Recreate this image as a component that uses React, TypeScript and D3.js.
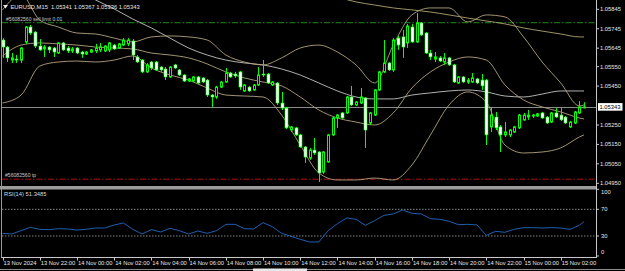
import React from 'react';
import * as d3 from 'd3';

const W = 625;
const H = 271;

// EURUSD M15 candles, 13 Nov 20:00 .. 15 Nov 03:15
const opens = [
  1.05687, 1.05651, 1.05584, 1.05589, 1.05584, 1.05677, 1.05754, 1.05728, 1.05656, 1.05641,
  1.05651, 1.05646, 1.05620, 1.05672, 1.05646, 1.05631, 1.05646, 1.05625, 1.05615, 1.05625,
  1.05631, 1.05636, 1.05631, 1.05636, 1.05661, 1.05646, 1.05661, 1.05667, 1.05682, 1.05600,
  1.05584, 1.05523, 1.05574, 1.05574, 1.05548, 1.05538, 1.05497, 1.05559, 1.05533, 1.05507,
  1.05476, 1.05476, 1.05497, 1.05492, 1.05481, 1.05404, 1.05394, 1.05445, 1.05471, 1.05517,
  1.05512, 1.05523, 1.05425, 1.05445, 1.05430, 1.05456, 1.05512, 1.05512, 1.05456, 1.05466,
  1.05363, 1.05337, 1.05224, 1.05235, 1.05199, 1.05137, 1.05080, 1.05121, 1.05111, 1.05008,
  1.05060, 1.05199, 1.05286, 1.05312, 1.05312, 1.05394, 1.05353, 1.05363, 1.05389, 1.05260,
  1.05301, 1.05430, 1.05523, 1.05569, 1.05533, 1.05697, 1.05703, 1.05672, 1.05754, 1.05677,
  1.05775, 1.05723, 1.05620, 1.05589, 1.05595, 1.05574, 1.05595, 1.05559, 1.05466, 1.05497,
  1.05471, 1.05471, 1.05487, 1.05481, 1.05481, 1.05240, 1.05291, 1.05240, 1.05199, 1.05199,
  1.05214, 1.05235, 1.05276, 1.05291, 1.05296, 1.05296, 1.05312, 1.05291, 1.05265, 1.05312,
  1.05301, 1.05291, 1.05240, 1.05260, 1.05312, 1.05341,
];
const highs = [
  1.05697, 1.05656, 1.05620, 1.05610, 1.05651, 1.05759, 1.05764, 1.05733, 1.05692, 1.05661,
  1.05656, 1.05651, 1.05677, 1.05677, 1.05656, 1.05651, 1.05651, 1.05631, 1.05631, 1.05641,
  1.05667, 1.05672, 1.05661, 1.05677, 1.05667, 1.05672, 1.05697, 1.05697, 1.05692, 1.05610,
  1.05589, 1.05569, 1.05579, 1.05579, 1.05553, 1.05548, 1.05553, 1.05564, 1.05538, 1.05512,
  1.05492, 1.05502, 1.05502, 1.05497, 1.05487, 1.05409, 1.05451, 1.05476, 1.05543, 1.05523,
  1.05523, 1.05528, 1.05461, 1.05451, 1.05461, 1.05548, 1.05584, 1.05517, 1.05476, 1.05471,
  1.05420, 1.05343, 1.05245, 1.05240, 1.05204, 1.05142, 1.05132, 1.05183, 1.05116, 1.05116,
  1.05204, 1.05291, 1.05307, 1.05317, 1.05399, 1.05451, 1.05373, 1.05440, 1.05394, 1.05317,
  1.05435, 1.05528, 1.05687, 1.05574, 1.05697, 1.05708, 1.05739, 1.05770, 1.05770, 1.05826,
  1.05780, 1.05728, 1.05636, 1.05625, 1.05605, 1.05620, 1.05600, 1.05564, 1.05502, 1.05502,
  1.05492, 1.05517, 1.05492, 1.05512, 1.05487, 1.05343, 1.05317, 1.05250, 1.05265, 1.05229,
  1.05245, 1.05307, 1.05312, 1.05327, 1.05307, 1.05312, 1.05317, 1.05296, 1.05317, 1.05337,
  1.05337, 1.05296, 1.05271, 1.05322, 1.05373, 1.05367,
];
const lows = [
  1.05595, 1.05574, 1.05569, 1.05569, 1.05569, 1.05667, 1.05713, 1.05646, 1.05631, 1.05600,
  1.05620, 1.05600, 1.05615, 1.05631, 1.05620, 1.05620, 1.05615, 1.05595, 1.05610, 1.05620,
  1.05620, 1.05625, 1.05625, 1.05625, 1.05636, 1.05641, 1.05656, 1.05656, 1.05584, 1.05569,
  1.05517, 1.05517, 1.05533, 1.05528, 1.05523, 1.05481, 1.05492, 1.05538, 1.05502, 1.05471,
  1.05471, 1.05471, 1.05461, 1.05466, 1.05394, 1.05343, 1.05384, 1.05440, 1.05466, 1.05492,
  1.05492, 1.05430, 1.05420, 1.05420, 1.05425, 1.05451, 1.05497, 1.05461, 1.05451, 1.05353,
  1.05327, 1.05229, 1.05214, 1.05193, 1.05132, 1.05055, 1.05070, 1.05096, 1.04957, 1.04998,
  1.05055, 1.05193, 1.05235, 1.05281, 1.05307, 1.05348, 1.05348, 1.05358, 1.05132, 1.05250,
  1.05296, 1.05425, 1.05517, 1.05528, 1.05523, 1.05636, 1.05595, 1.05646, 1.05672, 1.05672,
  1.05708, 1.05615, 1.05584, 1.05574, 1.05574, 1.05559, 1.05553, 1.05466, 1.05461, 1.05466,
  1.05461, 1.05466, 1.05461, 1.05430, 1.05147, 1.05214, 1.05224, 1.05111, 1.05188, 1.05188,
  1.05209, 1.05229, 1.05271, 1.05276, 1.05286, 1.05291, 1.05281, 1.05255, 1.05260, 1.05286,
  1.05271, 1.05255, 1.05235, 1.05255, 1.05307, 1.05336,
];
const closes = [
  1.05651, 1.05595, 1.05595, 1.05584, 1.05646, 1.05754, 1.05723, 1.05656, 1.05636, 1.05651,
  1.05636, 1.05625, 1.05672, 1.05636, 1.05631, 1.05641, 1.05620, 1.05615, 1.05625, 1.05636,
  1.05646, 1.05651, 1.05656, 1.05672, 1.05641, 1.05667, 1.05687, 1.05687, 1.05610, 1.05574,
  1.05523, 1.05559, 1.05543, 1.05533, 1.05533, 1.05497, 1.05548, 1.05543, 1.05507, 1.05476,
  1.05487, 1.05497, 1.05466, 1.05471, 1.05404, 1.05394, 1.05445, 1.05471, 1.05517, 1.05497,
  1.05502, 1.05445, 1.05456, 1.05425, 1.05456, 1.05507, 1.05507, 1.05466, 1.05471, 1.05363,
  1.05337, 1.05235, 1.05240, 1.05199, 1.05137, 1.05085, 1.05121, 1.05106, 1.05003, 1.05111,
  1.05199, 1.05286, 1.05301, 1.05286, 1.05394, 1.05353, 1.05368, 1.05394, 1.05224, 1.05312,
  1.05430, 1.05523, 1.05569, 1.05533, 1.05687, 1.05661, 1.05651, 1.05759, 1.05677, 1.05775,
  1.05713, 1.05620, 1.05600, 1.05600, 1.05579, 1.05595, 1.05559, 1.05471, 1.05497, 1.05471,
  1.05481, 1.05492, 1.05466, 1.05451, 1.05199, 1.05301, 1.05235, 1.05199, 1.05214, 1.05224,
  1.05240, 1.05301, 1.05301, 1.05301, 1.05301, 1.05307, 1.05286, 1.05260, 1.05312, 1.05291,
  1.05276, 1.05260, 1.05265, 1.05317, 1.05343, 1.05343,
];

// indicator lines, sampled every 4 bars
const lineBars = [0, 4, 8, 12, 16, 20, 24, 28, 32, 36, 40, 44, 48, 52, 56, 60, 64, 68, 72, 76, 80, 84, 88, 92, 96, 100, 104, 108, 112, 116, 120, 124, 125];
const bbUpper = [1.05842, 1.05919, 1.05790, 1.05754, 1.05723, 1.05718, 1.05697, 1.05677, 1.05703, 1.05708, 1.05703, 1.05687, 1.05610, 1.05574, 1.05559, 1.05595, 1.05646, 1.05661, 1.05625, 1.05559, 1.05466, 1.05661, 1.05816, 1.05852, 1.05852, 1.05780, 1.05816, 1.05806, 1.05703, 1.05574, 1.05466, 1.05348, 1.05353];
const bbMiddle = [1.05605, 1.05661, 1.05672, 1.05667, 1.05661, 1.05651, 1.05646, 1.05641, 1.05620, 1.05610, 1.05595, 1.05564, 1.05523, 1.05492, 1.05471, 1.05451, 1.05394, 1.05327, 1.05286, 1.05265, 1.05250, 1.05312, 1.05440, 1.05523, 1.05574, 1.05600, 1.05584, 1.05456, 1.05379, 1.05343, 1.05317, 1.05286, 1.05281];
const bbLower = [1.05363, 1.05404, 1.05553, 1.05574, 1.05579, 1.05574, 1.05584, 1.05605, 1.05543, 1.05507, 1.05481, 1.05440, 1.05404, 1.05399, 1.05394, 1.05301, 1.05147, 1.05003, 1.04967, 1.04967, 1.04977, 1.04967, 1.05044, 1.05199, 1.05353, 1.05420, 1.05368, 1.05147, 1.05106, 1.05111, 1.05132, 1.05188, 1.05199];
const maSlow = [1.06140, 1.06094, 1.06042, 1.05996, 1.05944, 1.05893, 1.05847, 1.05795, 1.05749, 1.05697, 1.05646, 1.05610, 1.05584, 1.05569, 1.05559, 1.05538, 1.05507, 1.05466, 1.05425, 1.05394, 1.05384, 1.05384, 1.05404, 1.05415, 1.05425, 1.05430, 1.05420, 1.05399, 1.05394, 1.05409, 1.05425, 1.05425, 1.05425];
const maLongBars = [68, 72, 76, 80, 84, 88, 92, 96, 100, 104, 108, 112, 116, 120, 124, 125];
const maLong = [1.05934, 1.05908, 1.05883, 1.05867, 1.05852, 1.05842, 1.05831, 1.05816, 1.05800, 1.05785, 1.05770, 1.05749, 1.05733, 1.05718, 1.05703, 1.05703];

// RSI(14), every 2 bars
const rsiBars = [0, 2, 4, 6, 8, 10, 12, 14, 16, 18, 20, 22, 24, 26, 28, 30, 32, 34, 36, 38, 40, 42, 44, 46, 48, 50, 52, 54, 56, 58, 60, 62, 64, 66, 68, 70, 72, 74, 76, 78, 80, 82, 84, 86, 88, 90, 92, 94, 96, 98, 100, 102, 104, 106, 108, 110, 112, 114, 116, 118, 120, 122, 124, 125];
const rsiValues = [34, 33, 38, 43, 40, 39.5, 41, 40.5, 39, 40, 42, 42, 46.5, 49.5, 40, 33, 39.5, 36, 41.5, 38, 33, 37.5, 34, 38, 47.5, 47.5, 41, 40.5, 50, 44, 34, 29.5, 25, 21, 21, 38, 48.5, 57, 55, 46, 53, 61, 63, 69, 64, 63, 56, 55, 52, 47, 47.5, 46.5, 31, 37, 35.5, 40, 42.5, 42.5, 42, 42.5, 42, 40, 46, 51.35];
const rsiLevels = [70, 30];
const rsiLabels = [100, 70, 30, 0];

const priceTicks = [1.05845, 1.05745, 1.05645, 1.0555, 1.0545, 1.0525, 1.0515, 1.0505, 1.0495];
const timeBars = [0, 8, 16, 24, 32, 40, 48, 56, 64, 72, 80, 88, 96, 104, 112, 120];
const timeLabels = ['13 Nov 2024', '13 Nov 22:00', '14 Nov 00:00', '14 Nov 02:00', '14 Nov 04:00', '14 Nov 06:00', '14 Nov 08:00', '14 Nov 10:00', '14 Nov 12:00', '14 Nov 14:00', '14 Nov 16:00', '14 Nov 18:00', '14 Nov 20:00', '14 Nov 22:00', '15 Nov 00:00', '15 Nov 02:00'];

const bid = 1.05343;
const sellLimit = 1.05776;
const takeProfit = 1.04971;

const FONT = "'Liberation Sans', Arial, sans-serif";
const FS = 5.8;
const LIME = '#00ff00';
const AXIS = '#c8c8c8';
const TXT = '#e6e6e6';

export default function App() {
  const axisX = 596.5;
  const x = d3.scaleLinear().domain([0, 125]).range([2.5, 584]);
  const y = d3.scaleLinear().domain([1.0495, 1.05845]).range([183.3, 9.3]);
  const yr = d3.scaleLinear().domain([0, 100]).range([256, 189.3]);

  const priceLine = (bars: number[]) =>
    d3.line<number>().x((_, i) => x(bars[i])).y(d => y(d)).curve(d3.curveMonotoneX);
  const rsiLine = d3.line<number>().x((_, i) => x(rsiBars[i])).y(d => yr(d));

  return (
    <svg width={W} height={H} viewBox={`0 0 ${W} ${H}`} style={{ position: 'absolute', left: 0, top: 0, display: 'block' }}>
      <defs>
        <clipPath id="main"><rect x={2} y={0} width={axisX - 2} height={186} /></clipPath>
        <clipPath id="sub"><rect x={2} y={190} width={axisX - 2} height={67} /></clipPath>
      </defs>
      <rect width={W} height={H} fill="#000" />

      <g clipPath="url(#main)">
        {/* order lines */}
        <line x1={2} x2={axisX} y1={y(sellLimit)} y2={y(sellLimit)} stroke="#1c8a1c" strokeDasharray="6 2 1.5 2" />
        <line x1={2} x2={axisX} y1={y(takeProfit)} y2={y(takeProfit)} stroke="#b01010" strokeDasharray="6 2 1.5 2" />
        {/* bid line */}
        <line x1={2} x2={axisX} y1={Math.round(y(bid)) + 0.5} y2={Math.round(y(bid)) + 0.5} stroke="#8a8a8a" />

        <path d={priceLine(lineBars)(maSlow) || ''} fill="none" stroke="#c4c4c4" strokeWidth={0.9} />
        <path d={priceLine(maLongBars)(maLong) || ''} fill="none" stroke="#aea46f" strokeWidth={0.9} />
        {[bbUpper, bbMiddle, bbLower].map((s, k) => (
          <path key={k} d={priceLine(lineBars)(s) || ''} fill="none" stroke="#b3a47f" strokeWidth={0.9} />
        ))}

        {opens.map((o, i) => {
          const c = closes[i];
          const r = Math.round(x(i));
          const top = y(Math.max(o, c));
          const h = Math.max(1, y(Math.min(o, c)) - top);
          const bear = c < o;
          return (
            <g key={i}>
              <line x1={r + 0.5} x2={r + 0.5} y1={y(highs[i])} y2={y(lows[i])} stroke={LIME} />
              {bear ? (
                <rect x={r - 1} y={top} width={3} height={h} fill="#fff" stroke={LIME} strokeWidth={0.6} />
              ) : (
                <rect x={r - 0.5} y={top} width={2} height={h} fill="#000" stroke={LIME} strokeWidth={1} />
              )}
            </g>
          );
        })}

        <text x={6} y={y(sellLimit) - 2} fill="#c8c8c8" fontFamily={FONT} fontSize={5.1}>#56082560 sell limit 0.01</text>
        <text x={5} y={y(takeProfit) - 2} fill="#c8c8c8" fontFamily={FONT} fontSize={5.1}>#56082560 tp</text>
      </g>

      {/* header */}
      <polygon points="3,5 8,5 5.5,8.5" fill={TXT} />
      <text x={10.5} y={8.8} fill={TXT} fontFamily={FONT} fontSize={FS} xmlSpace="preserve">
        EURUSD,M15  1.05341 1.05367 1.05336 1.05343
      </text>

      {/* separator between panels */}
      <rect x={0} y={186} width={axisX} height={3.5} fill="#9c9c9c" />

      {/* RSI panel */}
      <g clipPath="url(#sub)">
        {rsiLevels.map(v => (
          <line key={v} x1={2} x2={axisX} y1={yr(v)} y2={yr(v)} stroke="#a8a8a8" strokeWidth={0.8} strokeDasharray="1.5 1.5" />
        ))}
        <path d={rsiLine(rsiValues) || ''} fill="none" stroke="#1f5fae" strokeWidth={1} />
      </g>
      <text x={4} y={196} fill="#d8d8d8" fontFamily={FONT} fontSize={FS}>RSI(14) 51.3485</text>

      {/* frame */}
      <line x1={1.5} x2={1.5} y1={0} y2={258} stroke="#9a9a9a" />
      <line x1={axisX} x2={axisX} y1={0} y2={258} stroke={AXIS} />
      <line x1={1.5} x2={axisX} y1={257.5} y2={257.5} stroke={AXIS} />

      {/* price axis */}
      {priceTicks.map(v => (
        <g key={v}>
          <line x1={axisX} x2={axisX + 2.5} y1={y(v)} y2={y(v)} stroke={AXIS} />
          <text x={600} y={y(v)} dy="0.35em" fill={TXT} fontFamily={FONT} fontSize={FS}>{v.toFixed(5)}</text>
        </g>
      ))}
      <rect x={598} y={y(bid) - 3.8} width={24.5} height={7.6} fill="#fff" />
      <text x={599.5} y={y(bid)} dy="0.35em" fill="#000" fontFamily={FONT} fontSize={FS}>{bid.toFixed(5)}</text>

      {/* RSI axis */}
      {rsiLabels.map(v => {
        const yy = Math.min(252.3, Math.max(191.7, yr(v)));
        return (
          <g key={v}>
            <line x1={axisX} x2={axisX + 2.5} y1={yr(v)} y2={yr(v)} stroke={AXIS} />
            <text x={601} y={yy} dy="0.35em" fill={TXT} fontFamily={FONT} fontSize={FS}>{v}</text>
          </g>
        );
      })}

      {/* time axis */}
      {timeBars.map((b, i) => (
        <g key={b}>
          <line x1={Math.round(x(b)) + 0.5} x2={Math.round(x(b)) + 0.5} y1={257.5} y2={260.5} stroke={AXIS} />
          <text x={x(b) + 1} y={262.7} dy="0.35em" fill={TXT} fontFamily={FONT} fontSize={FS}>{timeLabels[i]}</text>
        </g>
      ))}

      {/* bottom strip */}
      <line x1={0} x2={W} y1={269.5} y2={269.5} stroke="#8c8c8c" />
      <rect x={253} y={268.5} width={54} height={2.5} fill="#e8e8e8" />
    </svg>
  );
}
